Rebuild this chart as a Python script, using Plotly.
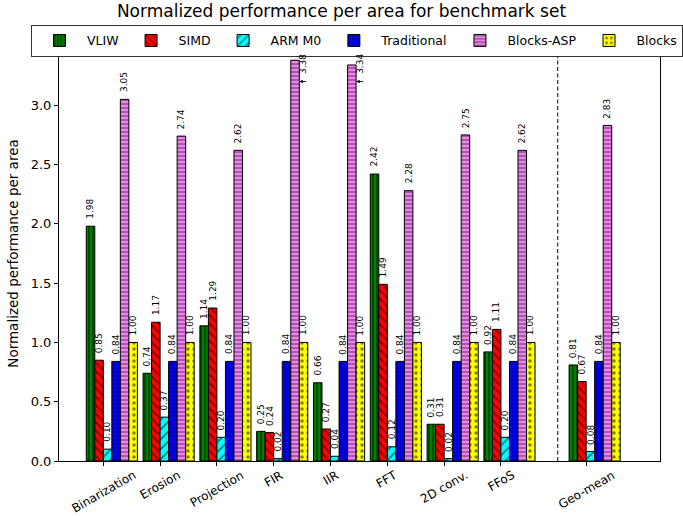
import plotly.graph_objects as go

# Benchmarks (Geo-mean is drawn apart, after the dashed separator)
categories = ["Binarization", "Erosion", "Projection", "FIR", "IIR", "FFT",
              "2D conv.", "FFoS", "Geo-mean"]
positions = [0, 1, 2, 3, 4, 5, 6, 7, 8.5]
separator_x = 8.0

series_names = ["VLIW", "SIMD", "ARM M0", "Traditional", "Blocks-ASP", "Blocks"]
vliw = [1.98, 0.74, 1.14, 0.25, 0.66, 2.42, 0.31, 0.92, 0.81]
simd = [0.85, 1.17, 1.29, 0.24, 0.27, 1.49, 0.31, 1.11, 0.67]
arm_m0 = [0.10, 0.37, 0.20, 0.02, 0.04, 0.12, 0.02, 0.20, 0.08]
traditional = [0.84, 0.84, 0.84, 0.84, 0.84, 0.84, 0.84, 0.84, 0.84]
blocks_asp = [3.05, 2.74, 2.62, 3.38, 3.34, 2.28, 2.75, 2.62, 2.83]
blocks = [1.00, 1.00, 1.00, 1.00, 1.00, 1.00, 1.00, 1.00, 1.00]
series_values = [vliw, simd, arm_m0, traditional, blocks_asp, blocks]

# fill colour, hatch shape, hatch size, hatch solidity
styles = [
    ("#008000", "|", 4, 0.4),
    ("#ff0000", "\\", 6, 0.3),
    ("#00ffff", "/", 7, 0.25),
    ("#0000ff", "+", 4, 0.3),
    ("#ee82ee", "-", 4, 0.3),
    ("#ffff00", ".", 6, 0.25),
]

BAR_W = 0.15
Y_MAX = 3.5
FONT = "DejaVu Sans"

fig = go.Figure()
annotations = []

for i, (name, vals, (col, shape, psize, solid)) in enumerate(
        zip(series_names, series_values, styles)):
    off = (i - 2) * BAR_W
    fig.add_trace(go.Bar(
        name=name,
        x=positions,
        y=vals,
        width=BAR_W,
        offset=off,
        marker=dict(
            color=col,
            line=dict(color="black", width=1),
            pattern=dict(shape=shape, fgcolor="black", bgcolor=col,
                         size=psize, solidity=solid, fillmode="overlay"),
        ),
        hoverinfo="name+y",
    ))
    for px, v in zip(positions, vals):
        cx = px + off + BAR_W / 2
        label = f"{v:.2f}"
        if v + 0.3 > Y_MAX:
            # too tall for a label above the bar: put it beside, with an arrow
            edge = px + off + BAR_W
            annotations.append(dict(
                x=edge + 0.07, y=3.35, xref="x", yref="y", text=label,
                textangle=-90, showarrow=False,
                font=dict(family=FONT, size=9, color="black")))
            annotations.append(dict(
                x=edge, y=3.2, xref="x", yref="y", text="",
                showarrow=True, axref="x", ayref="y", ax=edge + 0.15, ay=3.2,
                arrowhead=2, arrowsize=0.8, arrowwidth=0.9,
                arrowcolor="black", standoff=0))
        else:
            annotations.append(dict(
                x=cx, y=v, xref="x", yref="y", text=label,
                textangle=-90, showarrow=False, yanchor="bottom",
                yshift=5, font=dict(family=FONT, size=9, color="black")))

# Category labels, rotated and centred under their ticks
for px, cat in zip(positions, categories):
    annotations.append(dict(
        x=px, y=0, xref="x", yref="y", text=cat, textangle=-30,
        showarrow=False, xanchor="center", yanchor="top", yshift=-4,
        font=dict(family=FONT, size=12, color="black")))

fig.add_shape(type="line", x0=separator_x, x1=separator_x, y0=0, y1=1,
              xref="x", yref="paper",
              line=dict(color="black", width=1, dash="4px,2.5px"))

fig.update_layout(
    width=683, height=516,
    margin=dict(l=59, r=23, t=46, b=55),
    paper_bgcolor="white", plot_bgcolor="white",
    barmode="overlay",
    font=dict(family=FONT, size=12, color="black"),
    title=dict(text="Normalized performance per area for benchmark set",
               x=0.5, xref="container", xanchor="center", y=0.99,
               yanchor="top", font=dict(family=FONT, size=17)),
    annotations=annotations,
    showlegend=True,
    legend=dict(
        orientation="h", x=-0.023, y=1.051, xanchor="left", yanchor="top",
        bgcolor="white", bordercolor="#333333", borderwidth=1,
        font=dict(family=FONT, size=12.5), itemwidth=45,
    ),
    xaxis=dict(
        range=[-0.78, 9.80], tickvals=positions, ticktext=[""] * len(positions),
        ticks="outside", ticklen=4, tickcolor="black", automargin=False,
        showgrid=False, zeroline=False, showline=True, linecolor="black",
        linewidth=1, mirror=True,
    ),
    yaxis=dict(
        range=[0, Y_MAX], tickvals=[0, 0.5, 1, 1.5, 2, 2.5, 3, 3.5],
        tickformat=".1f", ticks="outside", ticklen=4, tickcolor="black",
        showgrid=False, zeroline=False, showline=True, linecolor="black",
        linewidth=1, mirror=True, tickfont=dict(family=FONT, size=13),
        automargin=False,
        title=dict(text="Normalized performance per area",
                   font=dict(family=FONT, size=13.5), standoff=8),
    ),
)

fig.write_html("out.html")
